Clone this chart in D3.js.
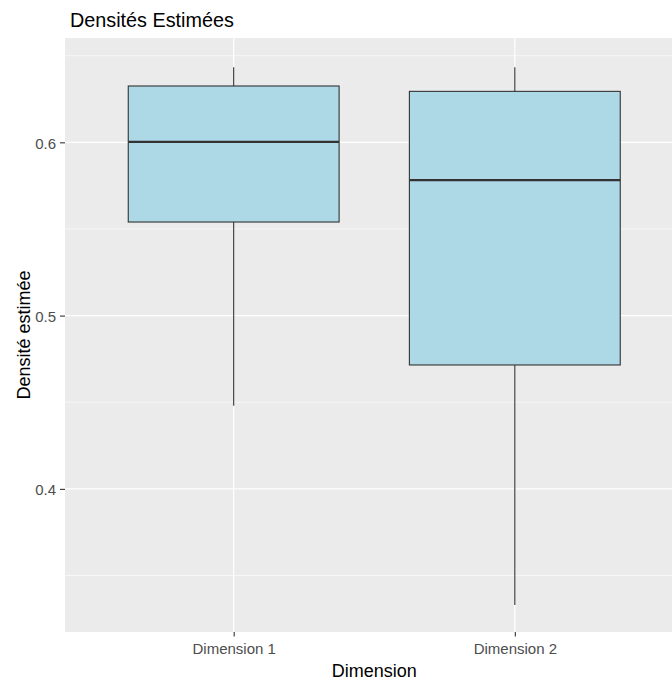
<!DOCTYPE html>
<html><head><meta charset="utf-8">
<script src="https://cdn.jsdelivr.net/npm/d3@7"></script>
<style>body{margin:0;background:#fff}svg{display:block;font-family:"Liberation Sans",Arial,sans-serif}</style>
</head><body><svg id="c" width="672" height="682"></svg>
<script>
const categories = ["Dimension 1", "Dimension 2"];
const lowerWhisker = [0.448, 0.333];
const q1 = [0.554, 0.4715];
const median = [0.6003, 0.5782];
const q3 = [0.6325, 0.6294];
const upperWhisker = [0.6433, 0.6433];
const yTicks = [0.4, 0.5, 0.6];
const yMinor = [0.35, 0.45, 0.55, 0.65];

const svg = d3.select("#c");
const L = 65, T = 38, B = 632, Rfull = 683.5;
const step = (Rfull - L) / (categories.length - 1 + 1.2);
const cx = d3.scalePoint().domain(categories).range([L + 0.6*step, Rfull - 0.6*step]);
const y = d3.scaleLinear().domain([0.3174, 0.6602]).range([B, T]);

svg.append("rect").attr("x", L).attr("y", T).attr("width", Rfull - L).attr("height", B - T).attr("fill", "#EBEBEB");
svg.selectAll(".minor").data(yMinor).enter().append("line")
  .attr("x1", L).attr("x2", Rfull).attr("y1", d => y(d)).attr("y2", d => y(d))
  .attr("stroke", "#fff").attr("stroke-width", 0.6);
svg.selectAll(".major").data(yTicks).enter().append("line")
  .attr("x1", L).attr("x2", Rfull).attr("y1", d => y(d)).attr("y2", d => y(d))
  .attr("stroke", "#fff").attr("stroke-width", 1.2);
svg.selectAll(".vmajor").data(categories).enter().append("line")
  .attr("x1", d => cx(d)).attr("x2", d => cx(d)).attr("y1", T).attr("y2", B)
  .attr("stroke", "#fff").attr("stroke-width", 1.2);

const bw = 0.75 * step;
const g = svg.selectAll(".box").data(categories).enter().append("g");
g.append("line").attr("x1", d => cx(d)).attr("x2", d => cx(d))
  .attr("y1", (d, i) => y(upperWhisker[i])).attr("y2", (d, i) => y(q3[i]))
  .attr("stroke", "#333333").attr("stroke-width", 1.1);
g.append("line").attr("x1", d => cx(d)).attr("x2", d => cx(d))
  .attr("y1", (d, i) => y(q1[i])).attr("y2", (d, i) => y(lowerWhisker[i]))
  .attr("stroke", "#333333").attr("stroke-width", 1.1);
g.append("rect").attr("x", d => cx(d) - bw/2).attr("width", bw)
  .attr("y", (d, i) => y(q3[i])).attr("height", (d, i) => y(q1[i]) - y(q3[i]))
  .attr("fill", "#ADD8E6").attr("stroke", "#333333").attr("stroke-width", 1.1);
g.append("line").attr("x1", d => cx(d) - bw/2).attr("x2", d => cx(d) + bw/2)
  .attr("y1", (d, i) => y(median[i])).attr("y2", (d, i) => y(median[i]))
  .attr("stroke", "#333333").attr("stroke-width", 2.2);

// y axis
const ya = svg.append("g").attr("transform", `translate(${L},0)`)
  .call(d3.axisLeft(y).tickValues(yTicks).tickSize(5).tickPadding(4).tickFormat(d3.format(".1f")));
ya.select(".domain").remove();
ya.attr("font-family", null).attr("font-size", null);
ya.selectAll(".tick line").attr("stroke", "#333333").attr("stroke-width", 1.1);
ya.selectAll(".tick text").attr("fill", "#4D4D4D").style("font-size", "15px").attr("dy", "0.38em");
// x axis
const xa = svg.append("g").attr("transform", `translate(0,${B})`)
  .call(d3.axisBottom(cx).tickSize(4.5).tickPadding(6.5));
xa.select(".domain").remove();
xa.attr("font-family", null).attr("font-size", null);
xa.selectAll(".tick line").attr("stroke", "#333333").attr("stroke-width", 1.1);
xa.selectAll(".tick text").attr("fill", "#4D4D4D").style("font-size", "15px");

svg.append("text").attr("x", (L + Rfull)/2).attr("y", 677).attr("text-anchor", "middle")
  .style("font-size", "18px").attr("fill", "#000").text("Dimension");
svg.append("text").attr("transform", `translate(30,${(T + B)/2}) rotate(-90)`).attr("text-anchor", "middle")
  .style("font-size", "18px").attr("fill", "#000").text("Densité estimée");
svg.append("text").attr("x", 70).attr("y", 27).style("font-size", "19.8px").attr("fill", "#000").text("Densités Estimées");
</script></body></html>
